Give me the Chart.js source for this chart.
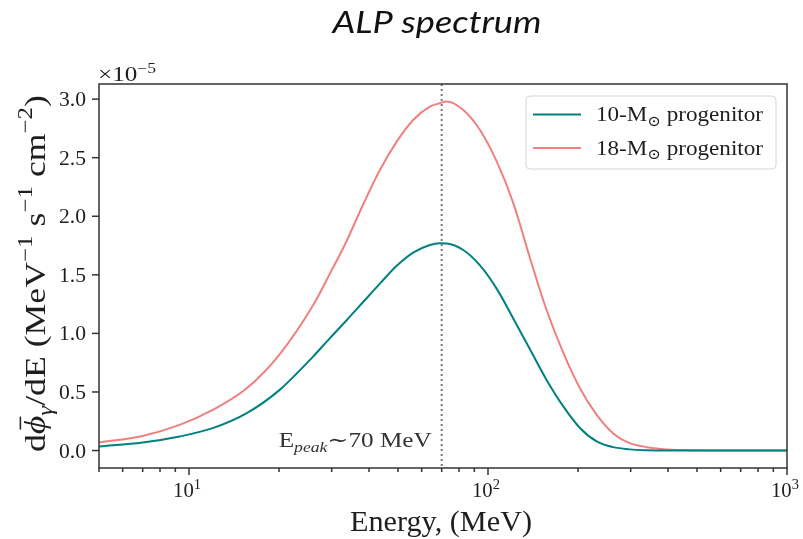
<!DOCTYPE html>
<html>
<head>
<meta charset="utf-8">
<title>ALP spectrum</title>
<script src="https://cdn.jsdelivr.net/npm/chart.js@4"></script>
<style>
  html, body { margin: 0; padding: 0; background: #fff; }
  #wrap { width: 803px; height: 539px; }
</style>
</head>
<body>
<div id="wrap"><canvas id="alpChart" width="803" height="539"></canvas></div>
<script>
/* ALP photon spectrum for two progenitor masses (Chart.js, log energy axis) */

// energy grid (MeV)
const ENERGY = [5, 7, 9.3, 12, 15.6, 20.1, 26, 29.6, 33.6, 38.3, 43.5, 49.5, 56.2, 63.9, 69, 72.8, 82.7,
  94, 107, 121.6, 138.3, 157, 178.8, 203, 231, 262, 298, 340, 386, 450, 600, 1000];

// dPhi/dE in units of 1e-5 MeV^-1 s^-1 cm^-2
const FLUX_10 = [0.034, 0.068, 0.120, 0.191, 0.319, 0.518, 0.802, 0.960, 1.110, 1.270, 1.425, 1.577, 1.690,
  1.755, 1.770, 1.768, 1.712, 1.580, 1.380, 1.125, 0.862, 0.603, 0.375, 0.193, 0.078, 0.029, 0.010, 0.003,
  0.001, 0, 0, 0];
const FLUX_18 = [0.068, 0.125, 0.219, 0.347, 0.532, 0.822, 1.240, 1.510, 1.785, 2.105, 2.395, 2.637, 2.822,
  2.935, 2.965, 2.980, 2.907, 2.736, 2.466, 2.110, 1.640, 1.200, 0.831, 0.532, 0.305, 0.148, 0.063, 0.029,
  0.012, 0.004, 0.0005, 0];

const SERIES_LABELS = ['10', '18'];
const SERIES_COLORS = ['#008080', '#F08080'];
const X_TICKS = [10, 100, 1000];
const Y_TICKS = [0.0, 0.5, 1.0, 1.5, 2.0, 2.5, 3.0];
const Y_EXPONENT = '−5';
const E_PEAK = 70;

const SERIF = '"Liberation Serif", "DejaVu Serif", serif';
const INK = '#1e1e1e';

function richWidth(ctx, parts, size) {
  let w = 0;
  parts.forEach(p => {
    const sz = p.s ? size * 0.7 : size;
    ctx.font = `${p.i ? 'italic ' : ''}${sz}px ${SERIF}`;
    w += ctx.measureText(p.t).width;
  });
  return w;
}

// text run with sub/superscripts; optional width stretches it horizontally
function drawRich(ctx, parts, x, y, size, align, width) {
  const total = richWidth(ctx, parts, size);
  const sx = width ? width / total : 1;
  const drawn = total * sx;
  const x0 = align === 'center' ? x - drawn / 2 : align === 'right' ? x - drawn : x;
  ctx.save();
  ctx.translate(x0, y);
  ctx.scale(sx, 1);
  ctx.textAlign = 'left';
  ctx.textBaseline = 'alphabetic';
  let cx = 0;
  parts.forEach(p => {
    const sz = p.s ? size * 0.7 : size;
    ctx.font = `${p.i ? 'italic ' : ''}${sz}px ${SERIF}`;
    const dy = p.s === 'sup' ? -size * 0.42 : p.s === 'sub' ? size * 0.22 : 0;
    const w = ctx.measureText(p.t).width;
    ctx.fillText(p.t, cx, dy);
    if (p.bar) {
      ctx.lineWidth = size * 0.05;
      ctx.strokeStyle = ctx.fillStyle;
      ctx.beginPath();
      ctx.moveTo(cx + w * 0.25, -size * 0.82);
      ctx.lineTo(cx + w * 0.95, -size * 0.82);
      ctx.stroke();
    }
    cx += w;
  });
  ctx.restore();
}

const axesDecor = {
  id: 'axesDecor',
  afterDatasetsDraw(chart) {
    const { ctx, chartArea: a, scales: { x } } = chart;
    // E_peak marker
    const px = x.getPixelForValue(E_PEAK);
    ctx.save();
    ctx.strokeStyle = '#777';
    ctx.lineWidth = 2;
    ctx.setLineDash([2, 3]);
    ctx.beginPath();
    ctx.moveTo(px, a.top);
    ctx.lineTo(px, a.bottom);
    ctx.stroke();
    ctx.restore();

    ctx.save();
    ctx.fillStyle = '#333';
    drawRich(ctx, [{ t: 'E' }, { t: 'peak', s: 'sub', i: true }, { t: '∼' + E_PEAK + ' MeV' }], px - 10, a.bottom - 21, 21, 'right', 153);
    ctx.restore();
  },
  afterDraw(chart) {
    const { ctx, chartArea: a, scales: { x, y } } = chart;
    ctx.save();

    // frame
    ctx.strokeStyle = '#333';
    ctx.lineWidth = 1.5;
    ctx.strokeRect(a.left, a.top, a.right - a.left, a.bottom - a.top);

    // y ticks + labels
    ctx.fillStyle = INK;
    Y_TICKS.forEach(v => {
      const py = y.getPixelForValue(v);
      ctx.beginPath();
      ctx.moveTo(a.left - 7, py);
      ctx.lineTo(a.left, py);
      ctx.stroke();
      drawRich(ctx, [{ t: v.toFixed(1) }], a.left - 13, py + 7, 20, 'right', 27);
    });
    drawRich(ctx, [{ t: '×10' }, { t: Y_EXPONENT, s: 'sup' }], a.left - 1, a.top - 3, 20, 'left', 58);

    // x ticks: decades long, in-between short
    for (let dec = 1; dec <= 1000; dec *= 10) {
      for (let m = 1; m < 10; m++) {
        const v = dec * m;
        if (v < x.min || v > x.max) continue;
        const p = x.getPixelForValue(v);
        ctx.beginPath();
        ctx.moveTo(p, a.bottom);
        ctx.lineTo(p, a.bottom + (m === 1 ? 7 : 4));
        ctx.stroke();
      }
    }
    X_TICKS.forEach(v => {
      const p = x.getPixelForValue(v);
      drawRich(ctx, [{ t: '10' }, { t: String(Math.round(Math.log10(v))), s: 'sup' }], p - 2, a.bottom + 29, 20, 'center', 28);
    });

    // axis titles
    drawRich(ctx, [{ t: 'Energy, (MeV)' }], 441, 531, 30, 'center', 182);
    ctx.save();
    ctx.translate(45, 273.5);
    ctx.rotate(-Math.PI / 2);
    drawRich(ctx, [
      { t: 'd' }, { t: 'ϕ', i: true, bar: true }, { t: 'γ', s: 'sub', i: true },
      { t: '/dE (MeV' }, { t: '−1', s: 'sup' }, { t: ' s' }, { t: '−1', s: 'sup' },
      { t: ' cm' }, { t: '−2', s: 'sup' }, { t: ')' },
    ], 0, 0, 30, 'center', 357);
    ctx.restore();

    // legend
    const lx = 526, ly = 96, lw = 250, lh = 73;
    ctx.fillStyle = 'rgba(255,255,255,0.85)';
    ctx.strokeStyle = '#d4d4d4';
    ctx.lineWidth = 1;
    ctx.beginPath();
    ctx.roundRect(lx, ly, lw, lh, 4);
    ctx.fill();
    ctx.stroke();
    chart.data.datasets.forEach((ds, i) => {
      const rowY = 114.5 + i * 33.5;
      ctx.strokeStyle = ds.borderColor;
      ctx.lineWidth = 2;
      ctx.beginPath();
      ctx.moveTo(lx + 7, rowY);
      ctx.lineTo(lx + 55, rowY);
      ctx.stroke();
      ctx.fillStyle = INK;
      drawRich(ctx, [{ t: SERIES_LABELS[i] + '-M' }, { t: '⊙', s: 'sub' }, { t: ' progenitor' }], lx + 70, rowY + 6.5, 21, 'left', 167);
    });

    // title
    ctx.fillStyle = '#111';
    ctx.font = 'italic 30px Lato, "Open Sans", sans-serif';
    const tw = ctx.measureText('ALP spectrum').width;
    ctx.translate(437, 33);
    ctx.scale(209 / tw, 1);
    ctx.textAlign = 'center';
    ctx.textBaseline = 'alphabetic';
    ctx.fillText('ALP spectrum', 0, 0);

    ctx.restore();
  },
};

const toPoints = ys => ENERGY.map((e, i) => ({ x: e, y: ys[i] }));

new Chart(document.getElementById('alpChart'), {
  type: 'line',
  data: {
    datasets: [
      { label: '10-M⊙ progenitor', data: toPoints(FLUX_10), borderColor: SERIES_COLORS[0], borderWidth: 2 },
      { label: '18-M⊙ progenitor', data: toPoints(FLUX_18), borderColor: SERIES_COLORS[1], borderWidth: 2 },
    ],
  },
  options: {
    responsive: false,
    animation: false,
    devicePixelRatio: 1,
    layout: { padding: { left: 99, top: 84, right: 16, bottom: 71 } },
    elements: { point: { radius: 0 }, line: { cubicInterpolationMode: 'monotone', fill: false } },
    plugins: { legend: { display: false }, tooltip: { enabled: false } },
    scales: {
      x: { type: 'logarithmic', min: 5, max: 1000, display: false },
      y: { type: 'linear', min: -0.149, max: 3.129, display: false },
    },
  },
  plugins: [axesDecor],
});
</script>
</body>
</html>
